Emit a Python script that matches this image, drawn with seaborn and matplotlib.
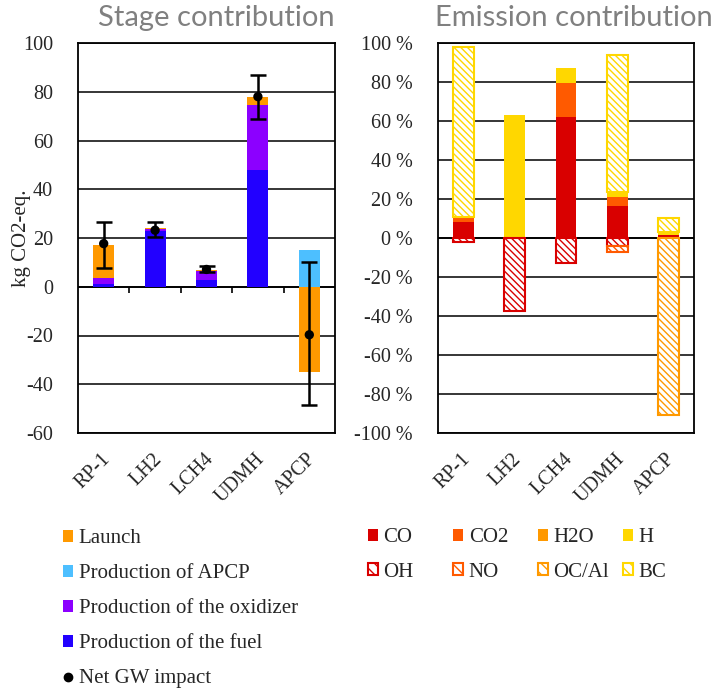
import numpy as np
import matplotlib
matplotlib.use("Agg")
import matplotlib.pyplot as plt
import matplotlib.transforms as mtransforms
from matplotlib.patches import Patch
from matplotlib.lines import Line2D
import seaborn as sns

categories = ["RP-1", "LH2", "LCH4", "UDMH", "APCP"]

# Stage contribution (kg CO2-eq.)
fuel_prod = [1.0, 22.8, 2.8, 48.0, 0.0]
oxidizer_prod = [2.7, 0.8, 3.6, 26.7, 0.0]
apcp_prod = [0.0, 0.0, 0.0, 0.0, 15.1]
launch = [13.3, 0.5, 0.5, 3.2, -34.8]
net_gw = [17.7, 23.2, 7.1, 78.0, -19.7]
net_low = [7.8, 20.5, 5.9, 68.8, -48.5]
net_high = [26.7, 26.4, 8.7, 86.8, 10.3]

# Emission contribution (%)
co = [8.0, 0.0, 62.1, 16.6, 1.5]
co2 = [2.2, 0.0, 17.2, 4.6, 0.0]
h2o = [0.0, 0.0, 0.0, 0.0, 0.0]
h = [0.5, 63.1, 7.9, 2.5, 1.5]
bc = [87.4, 0.0, 0.0, 70.1, 7.0]
oh = [-2.0, -37.4, -13.0, -3.9, 0.0]
no = [0.0, 0.0, 0.0, -3.1, 0.0]
oc_al = [0.0, 0.0, 0.0, 0.0, -90.8]

C_LAUNCH = "#FF9900"
C_APCP = "#4DBFFF"
C_OXID = "#8C00FF"
C_FUEL = "#2200FF"
C_CO = "#D90000"
C_CO2 = "#FF5A00"
C_H2O = "#FF9900"
C_H = "#FFD700"

sns.set_theme(style="white")
plt.rcParams["font.family"] = ["Liberation Serif", "DejaVu Serif"]
plt.rcParams["axes.unicode_minus"] = False
plt.rcParams["hatch.linewidth"] = 1.0

BAR_W = 0.41
HATCH = "\\" * 5
TICK_FS = 14.5
LEG_FS = 15
GRAY = "#808080"


def stacked(ax, series):
    """Stack bars per category, positives upward and negatives downward."""
    n = len(categories)
    pos = np.zeros(n)
    neg = np.zeros(n)
    for values, style in series:
        v = np.asarray(values, dtype=float)
        base = np.where(v >= 0, pos, neg)
        keep = v != 0
        if keep.any():
            sns.barplot(
                x=[c for c, k in zip(categories, keep) if k],
                y=v[keep],
                order=categories,
                bottom=base[keep],
                width=BAR_W,
                saturation=1,
                errorbar=None,
                ax=ax,
                zorder=3,
                **style,
            )
        pos += np.clip(v, 0, None)
        neg += np.clip(v, None, 0)


def solid(color):
    return dict(color=color, linewidth=0)


def hatched(color):
    return dict(color="white", facecolor="white", edgecolor=color,
                hatch=HATCH, linewidth=1.5)


fig = plt.figure(figsize=(7.19, 6.91), dpi=100)
ax1 = fig.add_axes([78 / 719, (691 - 433) / 691, 257 / 719, 390 / 691])
ax2 = fig.add_axes([438 / 719, (691 - 433) / 691, 256 / 719, 390 / 691])

# ---- Stage contribution ----
stacked(ax1, [
    (fuel_prod, solid(C_FUEL)),
    (oxidizer_prod, solid(C_OXID)),
    (apcp_prod, solid(C_APCP)),
    (launch, solid(C_LAUNCH)),
])
xpos = np.arange(len(categories))
net = np.asarray(net_gw)
ax1.errorbar(xpos, net, yerr=[net - np.asarray(net_low), np.asarray(net_high) - net],
             fmt="none", ecolor="black", elinewidth=1.8, capsize=5.5, capthick=1.8,
             zorder=5)
sns.scatterplot(x=xpos, y=net, color="black", s=45, edgecolor="none", ax=ax1, zorder=6)
ax1.set_ylim(-60, 100)
ax1.set_yticks(np.arange(-60, 101, 20))
ax1.set_ylabel("")
# category separators hanging below the zero line
ax1.vlines(xpos[:-1] + 0.5, -2.4, 0, color="black", linewidth=1.2, zorder=2)
ax1.axhline(0, color="black", linewidth=1.3, zorder=2)
fig.text(22 / 719, 1 - 238 / 691, "kg CO2-eq.", rotation=90, ha="center", va="center",
         fontsize=15)

# ---- Emission contribution ----
stacked(ax2, [
    (co, solid(C_CO)),
    (co2, solid(C_CO2)),
    (h2o, solid(C_H2O)),
    (h, solid(C_H)),
    (bc, hatched(C_H)),
    (oh, hatched(C_CO)),
    (no, hatched(C_CO2)),
    (oc_al, hatched(C_H2O)),
])
ax2.set_ylim(-100, 100)
ax2.set_yticks(np.arange(-100, 101, 20))
ax2.set_yticklabels([f"{v} %" for v in range(-100, 101, 20)])
ax2.set_ylabel("")
ax2.axhline(0, color="black", linewidth=1.3, zorder=2)

label_shift = mtransforms.ScaledTranslation(4 / 100, 0, fig.dpi_scale_trans)
for ax in (ax1, ax2):
    ax.set_xlim(-0.5, len(categories) - 0.5)
    ax.set_xlabel("")
    ax.set_xticks(xpos)
    ax.set_xticklabels(categories, rotation=45, ha="right", va="center",
                       rotation_mode="anchor")
    ax.tick_params(axis="x", length=0, pad=17, labelsize=TICK_FS)
    ax.tick_params(axis="y", length=0, pad=18, labelsize=TICK_FS)
    for lab in ax.get_xticklabels():
        lab.set_transform(lab.get_transform() + label_shift)
    ax.yaxis.grid(True, color="black", linewidth=1.1, zorder=0)
    ax.xaxis.grid(False)
    ax.set_axisbelow(True)
    for sp in ax.spines.values():
        sp.set_color("black")
        sp.set_linewidth(1.3)
        sp.set_visible(True)

fig.text(216 / 719, 1 - 18 / 691, "Stage contribution", ha="center", va="center",
         fontsize=21, color=GRAY, family=["Lato", "DejaVu Sans"])
fig.text(574 / 719, 1 - 18 / 691, "Emission contribution", ha="center", va="center",
         fontsize=21, color=GRAY, family=["Lato", "DejaVu Sans"])

# ---- legends ----
leg_kw = dict(frameon=False, fontsize=LEG_FS, handlelength=0.5, handleheight=0.5,
              handletextpad=0.25, borderpad=0, borderaxespad=0, loc="upper left")

stage_handles = [
    Patch(facecolor=C_LAUNCH, edgecolor="none"),
    Patch(facecolor=C_APCP, edgecolor="none"),
    Patch(facecolor=C_OXID, edgecolor="none"),
    Patch(facecolor=C_FUEL, edgecolor="none"),
    Line2D([], [], color="black", marker="o", linestyle="none", markersize=6),
]
stage_labels = ["Launch", "Production of APCP", "Production of the oxidizer",
                "Production of the fuel", "Net GW impact"]
fig.legend(stage_handles, stage_labels, bbox_to_anchor=(63 / 719, 1 - 529 / 691),
           labelspacing=0.77, **leg_kw)

emis_cols = [
    (C_CO, "CO", "OH"),
    (C_CO2, "CO2", "NO"),
    (C_H2O, "H2O", "OC/Al"),
    (C_H, "H", "BC"),
]
for i, (col, top_lab, bot_lab) in enumerate(emis_cols):
    handles = [Patch(facecolor=col, edgecolor="none"),
               Patch(facecolor="white", edgecolor=col, hatch="\\\\\\", linewidth=1.5)]
    fig.legend(handles, [top_lab, bot_lab],
               bbox_to_anchor=((368 + 85 * i) / 719, 1 - 528 / 691),
               labelspacing=0.75, **leg_kw)

fig.savefig("out.png", dpi=100)
